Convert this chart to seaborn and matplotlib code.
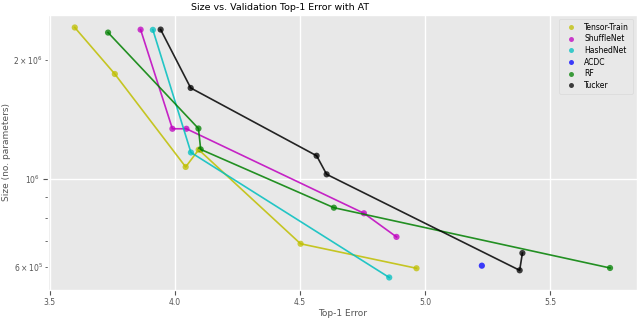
import matplotlib
matplotlib.use("Agg")
import matplotlib.pyplot as plt
import seaborn as sns
import pandas as pd

methods = ["Tensor-Train", "ShuffleNet", "HashedNet", "ACDC", "RF", "Tucker"]
colors = ["y", "m", "c", "b", "g", "k"]

tt_err = [3.60, 3.76, 4.043, 4.095, 4.502, 4.965]
tt_size = [2.41e6, 1.84e6, 1.073e6, 1.186e6, 0.687e6, 0.596e6]
sh_err = [3.863, 3.99, 4.046, 4.755, 4.885]
sh_size = [2.38e6, 1.339e6, 1.339e6, 0.820e6, 0.715e6]
hn_err = [3.912, 4.064, 4.856]
hn_size = [2.377e6, 1.167e6, 0.565e6]
acdc_err = [5.226]
acdc_size = [0.605e6]
rf_err = [3.733, 4.094, 4.103, 4.635, 5.738]
rf_size = [2.34e6, 1.341e6, 1.188e6, 0.847e6, 0.597e6]
tk_err = [3.943, 4.063, 4.566, 4.606, 5.377, 5.388]
tk_size = [2.381e6, 1.697e6, 1.145e6, 1.028e6, 0.589e6, 0.651e6]

errs = [tt_err, sh_err, hn_err, acdc_err, rf_err, tk_err]
sizes = [tt_size, sh_size, hn_size, acdc_size, rf_size, tk_size]

rows = []
for m, e, s in zip(methods, errs, sizes):
    for ei, si in zip(e, s):
        rows.append({"method": m, "err": ei, "size": si})
df = pd.DataFrame(rows)
palette = dict(zip(methods, colors))

plt.style.use("ggplot")
fig = plt.figure(figsize=(6.4, 3.19), dpi=100)
ax = fig.add_axes([0.075, 0.091, 0.92, 0.862])
ax.set_facecolor("#E8E8E8")

sns.lineplot(data=df, x="err", y="size", hue="method", hue_order=methods,
             palette=palette, estimator=None, sort=True, legend=False,
             linewidth=1.2, alpha=0.85, ax=ax)
sns.scatterplot(data=df, x="err", y="size", hue="method", hue_order=methods,
                palette=palette, s=20, alpha=0.75, edgecolor="none", ax=ax)

ax.set_yscale("log")
fig.text(0.4375, 0.975, "Size vs. Validation Top-1 Error with AT", fontsize=6.8,
         color="black", ha="center", va="center")
ax.set_xlabel("Top-1 Error", fontsize=6.5, color="#555555", labelpad=2)
ax.set_ylabel("Size (no. parameters)", fontsize=6.5, color="#555555", labelpad=2)
ax.tick_params(axis="both", which="both", labelsize=5.5, colors="#555555", pad=2)
ax.set_xticks([3.5, 4.0, 4.5, 5.0, 5.5])
ax.grid(True, which="major", color="white", linewidth=1)
ax.grid(False, which="minor")

leg = ax.legend(loc="upper right", fontsize=5.5, title=None, frameon=True,
                facecolor="#E8E8E8", edgecolor="#D5D5D5", borderpad=0.5,
                handletextpad=0.8, labelspacing=0.35, markerscale=0.8)
for t in leg.get_texts():
    t.set_color("black")

fig.savefig("out.png", dpi=100)
